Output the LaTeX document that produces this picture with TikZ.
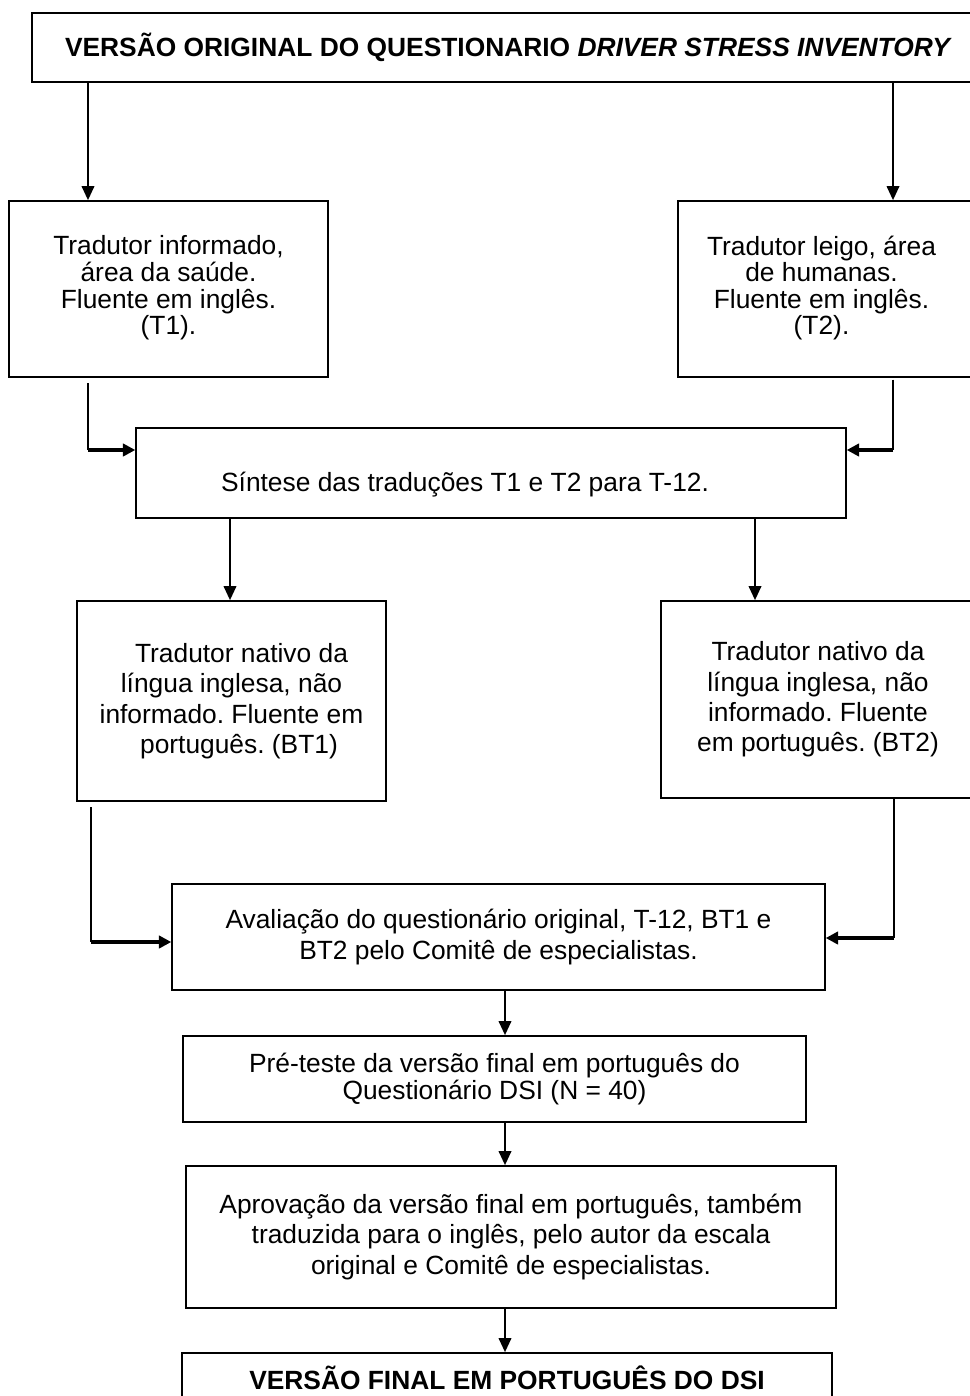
\documentclass[tikz,border=0pt]{standalone}
\usepackage{fontspec}
\setmainfont{Liberation Sans}
\frenchspacing
\usetikzlibrary{arrows.meta,positioning,calc}
\tikzset{
  box/.style={rectangle,draw=black,line width=.9pt,align=center,inner sep=0pt,font=\fontsize{15}{17.3}\selectfont},
  boxs/.style={box,font=\fontsize{15}{14}\selectfont},
  boxb/.style={box,font=\fontsize{15}{17.3}\selectfont\bfseries},
  arr/.style={line width=1.4pt,-{Triangle[length=8pt,width=7pt]}},
  vline/.style={line width=.6pt},
  harr/.style={line width=2pt,-{Triangle[length=7pt,width=7pt]}},
}
\begin{document}
\begin{tikzpicture}[x=0.02cm,y=-0.02cm]
  \clip (0,0) rectangle (970,1396);
  % boxes
  \node[boxb,minimum width=19.06cm,minimum height=1.38cm] (orig) at (508.5,47.5)
    {VERSÃO ORIGINAL DO QUESTIONARIO \textit{DRIVER STRESS INVENTORY}};
  \node[boxs,minimum width=6.38cm,minimum height=3.52cm] (T1) at (168.5,289)
    {\raisebox{0.1cm}{\begin{tabular}{@{}c@{}}Tradutor informado,\\área da saúde.\\Fluente em inglês.\\(T1).\end{tabular}}};
  \node[boxs,minimum width=5.94cm,minimum height=3.52cm] (T2) at (826.5,289)
    {\hspace*{-0.2cm}\raisebox{0.1cm}{\begin{tabular}{@{}c@{}}Tradutor leigo, área\\de humanas.\\Fluente em inglês.\\(T2).\end{tabular}}};
  \node[box,minimum width=14.2cm,minimum height=1.8cm] (sint) at (491,473)
    {\hspace*{-1.04cm}\raisebox{-0.25cm}[0.3cm][0.05cm]{Síntese das traduções T1 e T2 para T-12.}};
  \node[box,minimum width=6.18cm,minimum height=4cm] (BT1) at (231.5,701)
    {\hspace*{0.4cm}Tradutor nativo da\\língua inglesa, não\\informado. Fluente em\\\hspace*{0.3cm}português. (BT1)};
  \node[box,minimum width=6.28cm,minimum height=3.94cm] (BT2) at (818,699.5)
    {Tradutor nativo da\\língua inglesa, não\\informado. Fluente\\em português. (BT2)};
  \node[box,minimum width=13.06cm,minimum height=2.12cm] (aval) at (498.5,937)
    {Avaliação do questionário original, T-12, BT1 e\\BT2 pelo Comitê de especialistas.};
  \node[boxs,minimum width=12.46cm,minimum height=1.72cm] (pre) at (494.5,1079)
    {Pré-teste da versão final em português do\\Questionário DSI (N = 40)};
  \node[box,minimum width=13cm,minimum height=2.84cm] (aprov) at (511,1237)
    {Aprovação da versão final em português, também\\traduzida para o inglês, pelo autor da escala\\original e Comitê de especialistas.};
  \node[boxb,minimum width=13cm,minimum height=1cm] (final) at (507,1378)
    {VERSÃO FINAL EM PORTUGUÊS DO DSI};
  % connectors
  \coordinate (a1) at (88,0);
  \coordinate (a2) at (893,0);
  \coordinate (a3) at (230,0);
  \coordinate (a4) at (755,0);
  \coordinate (a5) at (505,0);
  \coordinate (e1) at (88,450);
  \coordinate (e2) at (893,450);
  \coordinate (e3) at (91,942);
  \coordinate (e4) at (894,938);
  \draw[arr] (orig.south -| a1) -- (T1.north -| a1);
  \draw[arr] (orig.south -| a2) -- (T2.north -| a2);
  \draw[vline] ([yshift=-3pt]T1.south -| e1) -- (e1);
  \draw[harr] (e1) -- (e1 -| sint.west);
  \draw[vline] ([yshift=-1pt]T2.south -| e2) -- (e2);
  \draw[harr] (e2) -- (e2 -| sint.east);
  \draw[arr] (sint.south -| a3) -- (BT1.north -| a3);
  \draw[arr] (sint.south -| a4) -- (BT2.north -| a4);
  \draw[vline] ([yshift=-3pt]BT1.south -| e3) -- (e3);
  \draw[harr] (e3) -- (e3 -| aval.west);
  \draw[vline] (BT2.south -| e4) -- (e4);
  \draw[harr] (e4) -- (e4 -| aval.east);
  \draw[arr] (aval.south -| a5) -- (pre.north -| a5);
  \draw[arr] (pre.south -| a5) -- (aprov.north -| a5);
  \draw[arr] (aprov.south -| a5) -- (final.north -| a5);
\end{tikzpicture}
\end{document}
